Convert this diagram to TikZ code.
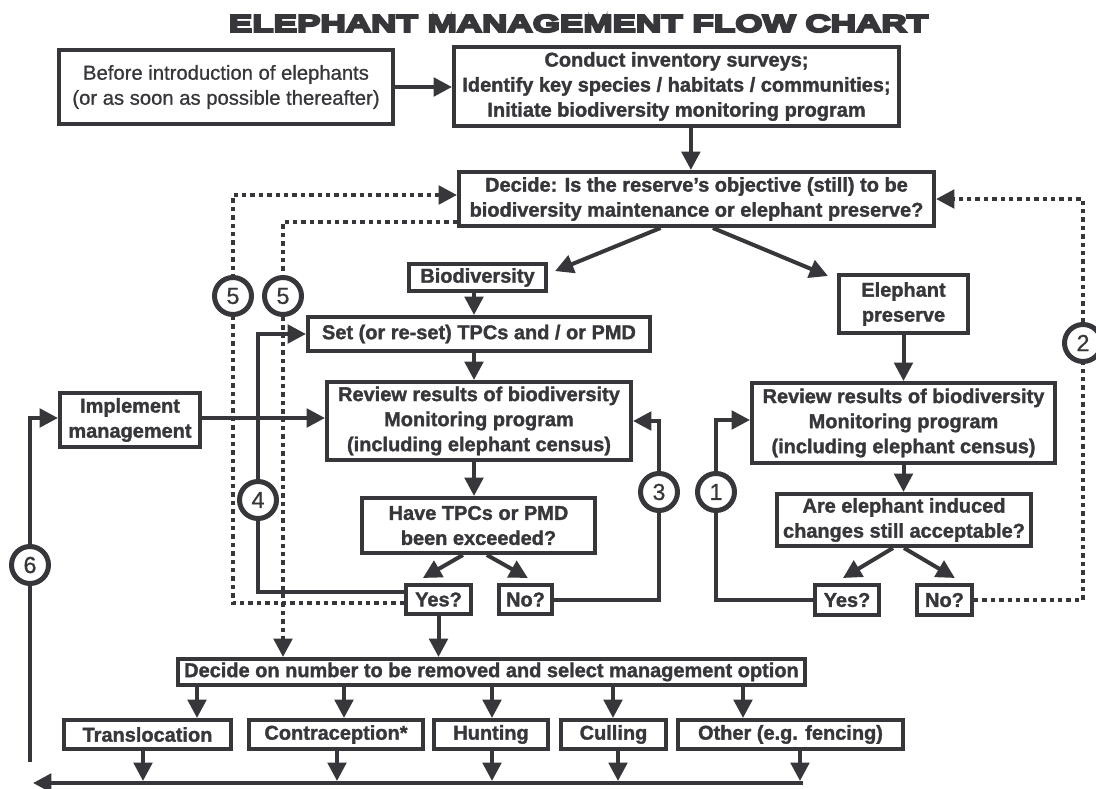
\documentclass[tikz,border=0pt]{standalone}
\usepackage{fontspec}
\setmainfont{Liberation Sans}[BoldFeatures={FakeBold=1.5},UprightFeatures={FakeBold=0.8}]
\newfontfamily\titlefont{Liberation Sans}[FakeStretch=1.45,BoldFeatures={FakeBold=9}]
\usepackage{tikz}
\usetikzlibrary{arrows.meta,positioning,backgrounds}
\definecolor{mainc}{HTML}{37373B}
\tikzset{
  >={Triangle[length=4.6mm,width=4.6mm]},
  box/.style={draw=mainc,line width=1mm,fill=white,inner sep=0pt,align=center,text=mainc,font=\fontsize{14.2}{17.8}\selectfont\bfseries},
  lbox/.style={box,font=\fontsize{14.4}{17.8}\selectfont},
  ptr/.style={->,line width=1mm,draw=mainc},
  dptr/.style={ptr,dash pattern=on 1.1mm off 1mm},
  num/.style={circle,draw=mainc,line width=1.25mm,fill=white,minimum size=9.25mm,inner sep=0pt,text=mainc,font=\fontsize{16.5}{18}\selectfont},
  ttl/.style={text=mainc,inner sep=0pt,font=\titlefont\fontsize{17.2}{20}\selectfont\bfseries},
}

\begin{document}
\begin{tikzpicture}[x=0.25mm,y=-0.25mm]
  \useasboundingbox (0,0) rectangle (1096,789);
  \node[ttl] (title) at (578.5,23.5) {ELEPHANT MANAGEMENT FLOW CHART};
  % top row
  \node[lbox,minimum width=83.5mm,minimum height=18.5mm] (before) at (226,87) {Before introduction of elephants\\(or as soon as possible thereafter)};
  \node[box,minimum width=111.25mm,minimum height=19.75mm] (survey) at (676.5,86.5) {Conduct inventory surveys;\\Identify key species / habitats / communities;\\Initiate biodiversity monitoring program};
  \node[box,minimum width=118.75mm,minimum height=13.5mm] (decide) at (696.5,199) {Decide: Is the reserve's objective (still) to be\\biodiversity maintenance or elephant preserve?};
  % biodiversity branch
  \node[box,minimum width=34.25mm,minimum height=6.75mm] (biodiv) at (477.5,277.5) {Biodiversity};
  \node[box,minimum width=85.5mm,minimum height=8.5mm] (setbox) at (479,334) {Set (or re-set) TPCs and / or PMD};
  \node[box,minimum width=76mm,minimum height=19.5mm] (revL) at (479,421) {Review results of biodiversity\\Monitoring program\\(including elephant census)};
  \node[box,minimum width=58.25mm,minimum height=13.75mm] (tpc) at (478.5,525.5) {Have TPCs or PMD\\been exceeded?};
  \node[box,minimum width=16.25mm,minimum height=7.25mm] (yesL) at (438.5,599.5) {Yes?};
  \node[box,minimum width=13.25mm,minimum height=7.25mm] (noL) at (525.5,599.5) {No?};
  \node[box,minimum width=35mm,minimum height=13.5mm] (impl) at (130,420) {Implement\\management};
  % elephant branch
  \node[box,minimum width=32.25mm,minimum height=14.5mm] (eleph) at (903.5,304) {Elephant\\preserve};
  \node[box,minimum width=75.75mm,minimum height=20mm] (revR) at (903.5,423) {Review results of biodiversity\\Monitoring program\\(including elephant census)};
  \node[box,minimum width=63.5mm,minimum height=13mm] (accept) at (904,520) {Are elephant induced\\changes still acceptable?};
  \node[box,minimum width=16mm,minimum height=7.5mm] (yesR) at (847,600) {Yes?};
  \node[box,minimum width=13.75mm,minimum height=7.5mm] (noR) at (944.5,600) {No?};
  % management options
  \node[box,minimum width=156.75mm,minimum height=6.5mm] (decnum) at (491.5,672) {Decide on number to be removed and select management option};
  \node[box,minimum width=41.75mm,minimum height=7.25mm] (trans) at (147.5,734.5) {Translocation};
  \node[box,minimum width=43.5mm,minimum height=7.25mm] (contra) at (336,734.5) {Contraception*};
  \node[box,minimum width=28.5mm,minimum height=7.25mm] (hunt) at (491,734.5) {Hunting};
  \node[box,minimum width=26.25mm,minimum height=7.25mm] (cull) at (613.5,734.5) {Culling};
  \node[box,minimum width=56.25mm,minimum height=7.25mm] (other) at (790.5,734.5) {Other (e.g. fencing)};
  % loop numbers
  \node[num] (n5a) at (233,296) {5};
  \node[num] (n5b) at (283,296) {5};
  \node[num] (n4) at (258,500) {4};
  \node[num] (n3) at (659,492) {3};
  \node[num] (n1) at (716,492) {1};
  \node[num] (n2) at (1083,343) {2};
  \node[num] (n6) at (30,565) {6};
  \coordinate (colL) at (474,0);
  \coordinate (s6) at (30,762);
  \coordinate (bR) at (803,783);
  \coordinate (bL) at (33,783);

  \begin{scope}[on background layer]
    \draw[ptr] (before.east) -- (before.east -| survey.west);
    \draw[ptr] ([xshift=3.6mm]survey.south) -- ([xshift=3.6mm]survey.south |- decide.north);
    \draw[ptr] ([xshift=-9mm]decide.south) -- ([xshift=1.75mm,yshift=1.6mm]biodiv.east);
    \draw[ptr] ([xshift=4.1mm]decide.south) -- ([xshift=-2.25mm,yshift=-0.75mm]eleph.north west);
    \draw[ptr] (colL |- biodiv.south) -- (colL |- setbox.north);
    \draw[ptr] (colL |- setbox.south) -- (colL |- revL.north);
    \draw[ptr] (colL |- revL.south) -- (colL |- tpc.north);
    \draw[ptr] ([xshift=-3.9mm]tpc.south) -- ([xshift=-3.9mm,yshift=1.25mm]yesL.north);
    \draw[ptr] ([xshift=2.1mm]tpc.south) -- ([xshift=0.6mm,yshift=1.25mm]noL.north);
    \draw[ptr] (yesL.south) -- (yesL.south |- decnum.north);
    \draw[ptr] ([yshift=0.5mm]impl.east) -- ([yshift=0.5mm]impl.east -| revL.west);
    \draw[ptr] (eleph.south) -- (eleph.south |- revR.north);
    \draw[ptr] (revR.south) -- (revR.south |- accept.north);
    \draw[ptr] ([xshift=-2.75mm]accept.south) -- ([xshift=-1mm,yshift=1.25mm]yesR.north);
    \draw[ptr] (accept.south) -- ([xshift=2.6mm,yshift=1.25mm]noR.north);
    % loops
    \draw[ptr] ([yshift=1.9mm]yesL.west) -| (n4 |- setbox.west) -- (setbox.west);
    \draw[ptr] (noL.east) -| (n3 |- revL.east) -- (revL.east);
    \draw[ptr] (yesR.west) -| ([yshift=0.75mm]n1 |- revR.west) -- ([yshift=0.75mm]revR.west);
    \draw[dptr] (noR.east) -| (n2 |- decide.east) -- (decide.east);
    \draw[dptr] ([yshift=-0.9mm]yesL.west) -| ([yshift=1mm]n5a |- decide.west) -- ([yshift=1mm]decide.west);
    \draw[dptr] ([yshift=-5.75mm]decide.west) -| (n5b |- decnum.north);
    % options
    \foreach \x in {197,344,492,613,743}
      \draw[ptr] (\x,0 |- decnum.south) -- (\x,0 |- trans.north);
    \foreach \x in {143,337,492,618,800}
      \draw[ptr] (\x,0 |- trans.south) -- (\x,781);
    \draw[ptr] (bR) -- (bL);
    \draw[ptr] (s6) |- ([yshift=0.5mm]impl.west);
  \end{scope}
\end{tikzpicture}
\end{document}
